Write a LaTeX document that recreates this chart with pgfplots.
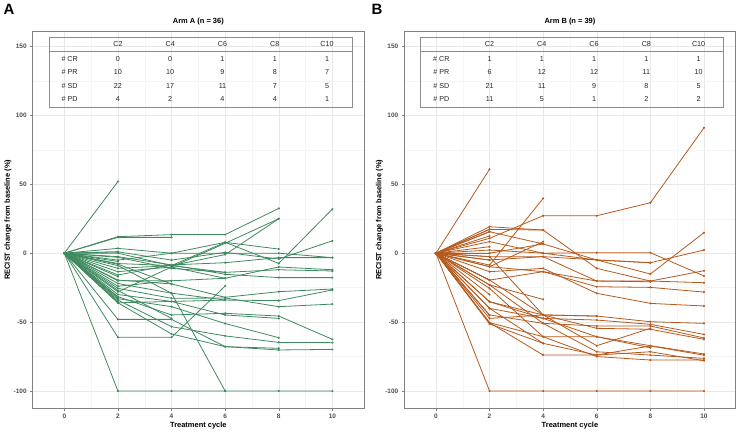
\documentclass[border=0pt]{standalone}
\usepackage{pgfplots}
\pgfplotsset{compat=1.18}
\usepackage{fontspec}
\setmainfont{Liberation Sans}
\definecolor{armA}{RGB}{62,138,94}
\definecolor{armB}{RGB}{181,89,28}
\definecolor{tickgray}{RGB}{77,77,77}
\pgfplotscreateplotcyclelist{armAlist}{{armA,mark=*,mark size=0.6pt,line width=0.8pt}\\}
\pgfplotscreateplotcyclelist{armBlist}{{armB,mark=*,mark size=0.6pt,line width=0.8pt}\\}
\tikzset{tabtxt/.style={font=\fontsize{7.2}{8}\selectfont, text=black!85, inner sep=0pt, anchor=center}}
\newcommand\trow[7]{%
 \node[tabtxt] at (axis cs:0.2,#1) {#2};
 \node[tabtxt] at (axis cs:2,#1) {#3};
 \node[tabtxt] at (axis cs:3.95,#1) {#4};
 \node[tabtxt] at (axis cs:5.9,#1) {#5};
 \node[tabtxt] at (axis cs:7.85,#1) {#6};
 \node[tabtxt] at (axis cs:9.8,#1) {#7};}
\pgfplotsset{
 spag/.style={
  scale only axis, width=331.3bp, height=376.3bp,
  xmin=-1.18, xmax=11.18, ymin=-112.3, ymax=160.7,
  xtick={0,2,...,10}, ytick={-100,-50,0,50,100,150},
  minor xtick={1,3,5,7,9}, minor ytick={-75,-25,25,75,125},
  grid=both,
  major grid style={draw=black!9, line width=0.5pt},
  minor grid style={draw=black!4, line width=0.35pt},
  axis line style={draw=black!50, line width=0.7pt},
  tick pos=left, tick align=outside,
  major tick length=2.5bp, minor tick length=0pt,
  every tick/.style={draw=black!50, line width=0.5pt},
  /pgf/number format/assume math mode=true,
  ticklabel style={font=\fontsize{6.5}{7}\selectfont\bfseries, text=tickgray},
  xlabel={Treatment cycle}, ylabel={RECIST change from baseline (\%)},
  label style={font=\fontsize{7.5}{8}\selectfont\bfseries, text=black},
  xlabel style={at={(axis description cs:0.5,-0.048)}, anchor=center},
  ylabel style={at={(axis description cs:-0.075,0.5)}, anchor=center},
  title style={font=\fontsize{7.5}{8}\selectfont\bfseries, at={(axis description cs:0.5,1.010)}, anchor=center, yshift=0pt},
 }
}
\begin{document}
\begin{tikzpicture}
\path[use as bounding box] (0,0) rectangle (738bp,432bp);
\node[font=\fontsize{15}{15}\selectfont\bfseries, anchor=center] at (9bp,422.5bp) {A};
\node[font=\fontsize{15}{15}\selectfont\bfseries, anchor=center] at (377bp,422.5bp) {B};
% ---------------- Arm A ----------------
\begin{axis}[spag, at={(32.7bp,24bp)}, anchor=south west, title={Arm A (n = 36)},
  cycle list name=armAlist]
\addplot coordinates {(0,0)(2,-100)(4,-100)(6,-100)(8,-100)(10,-100)};
\addplot coordinates {(0,0)(2,3.5)(4,0)(6,7.9)(8,-7.4)(10,32)};
\addplot coordinates {(0,0)(2,1)(4,-5)(6,0.6)(8,-4.2)(10,9)};
\addplot coordinates {(0,0)(2,-2.5)(4,-8.5)(6,-6.9)(8,-3.2)(10,-3.2)};
\addplot coordinates {(0,0)(2,-5)(4,0)(6,0)(8,0)(10,-3.2)};
\addplot coordinates {(0,0)(2,-11)(4,-9)(6,-13.9)(8,-12)(10,-12.9)};
\addplot coordinates {(0,0)(2,-13.4)(4,-10)(6,-18.2)(8,-10)(10,-12)};
\addplot coordinates {(0,0)(2,-15.8)(4,-8.5)(6,-15.3)(8,-17.7)(10,-17.7)};
\addplot coordinates {(0,0)(2,-19.5)(4,-22.3)(6,-32)(8,-27.9)(10,-26)};
\addplot coordinates {(0,0)(2,-22)(4,-29)(6,-34)(8,-34.4)(10,-26.7)};
\addplot coordinates {(0,0)(2,-25.5)(4,-32.7)(6,-32.5)(8,-38.8)(10,-36.9)};
\addplot coordinates {(0,0)(2,-31.5)(4,-44.8)(6,-43.6)(8,-45.6)(10,-62.5)};
\addplot coordinates {(0,0)(2,-34)(4,-53.3)(6,-60)(8,-64.7)(10,-64.9)};
\addplot coordinates {(0,0)(2,-36)(4,-58.6)(6,-67.8)(8,-70.2)(10,-69.8)};
\addplot coordinates {(0,0)(2,12)(4,13.5)(6,13.5)(8,32.5)};
\addplot coordinates {(0,0)(2,-28)(4,-10)(6,7.2)(8,25)};
\addplot coordinates {(0,0)(2,-7.5)(4,-9)(6,-1)(8,25)};
\addplot coordinates {(0,0)(2,0)(4,-9)(6,7.9)(8,3)};
\addplot coordinates {(0,0)(2,-30)(4,-35)(6,-44.8)(8,-47.3)};
\addplot coordinates {(0,0)(2,-33)(4,-38.8)(6,-51)(8,-61.3)};
\addplot coordinates {(0,0)(2,-48)(4,-48)(6,-67.8)(8,-69)};
\addplot coordinates {(0,0)(2,-9)(4,-29)(6,-100)};
\addplot coordinates {(0,0)(2,-61)(4,-61)(6,-23.8)};
\addplot coordinates {(0,0)(2,-3)(4,-11)(6,-13.9)};
\addplot coordinates {(0,0)(2,-24)(4,-20)(6,-18.2)};
\addplot coordinates {(0,0)(2,-36)(4,-35)(6,-34)};
\addplot coordinates {(0,0)(2,11.5)(4,11.5)};
\addplot coordinates {(0,0)(2,-20)(4,-20)};
\addplot coordinates {(0,0)(2,-27)(4,-47.3)};
\addplot coordinates {(0,0)(2,-8)(4,-22.3)};
\addplot coordinates {(0,0)(2,52)};
\addplot coordinates {(0,0)(2,1)};
\addplot coordinates {(0,0)(2,-6)};
\addplot coordinates {(0,0)(2,-17)};
\addplot coordinates {(0,0)(2,-32)};
\addplot coordinates {(0,0)(2,-35)};
\draw[black!45, line width=0.6pt] (axis cs:-0.57,156.4) rectangle (axis cs:10.73,105.9);
\draw[black!45, line width=0.6pt] (axis cs:-0.57,146.2) -- (axis cs:10.73,146.2);
\trow{151.6}{}{C2}{C4}{C6}{C8}{C10}
\trow{141}{\# CR}{0}{0}{1}{1}{1}
\trow{131.3}{\# PR}{10}{10}{9}{8}{7}
\trow{121.6}{\# SD}{22}{17}{11}{7}{5}
\trow{111.9}{\# PD}{4}{2}{4}{4}{1}
\end{axis}
% ---------------- Arm B ----------------
\begin{axis}[spag, at={(404.3bp,24bp)}, anchor=south west, title={Arm B (n = 39)},
  cycle list name=armBlist]
\addplot coordinates {(0,0)(2,10.8)(4,27.2)(6,27.2)(8,36.6)(10,91)};
\addplot coordinates {(0,0)(2,8.4)(4,0)(6,-4.9)(8,-15.1)(10,14.9)};
\addplot coordinates {(0,0)(2,2.3)(4,0)(6,0.4)(8,0.4)(10,-16.5)};
\addplot coordinates {(0,0)(2,-2.5)(4,-2.5)(6,-4.9)(8,-6.9)(10,2.3)};
\addplot coordinates {(0,0)(2,17.3)(4,16.8)(6,-11)(8,-20.2)(10,-12.7)};
\addplot coordinates {(0,0)(2,-9.8)(4,-13.4)(6,-20.2)(8,-20.2)(10,-21.4)};
\addplot coordinates {(0,0)(2,-13.4)(4,-11)(6,-29.1)(8,-36.4)(10,-38.3)};
\addplot coordinates {(0,0)(2,-19.5)(4,-13.4)(6,-24.3)(8,-24.8)(10,-28.2)};
\addplot coordinates {(0,0)(2,-35.2)(4,-44.8)(6,-45.6)(8,-49.7)(10,-50.9)};
\addplot coordinates {(0,0)(2,-40)(4,-47.3)(6,-48.5)(8,-51.6)(10,-58.9)};
\addplot coordinates {(0,0)(2,-44.8)(4,-50.9)(6,-52.8)(8,-52.8)(10,-61.5)};
\addplot coordinates {(0,0)(2,-47.3)(4,-44.8)(6,-54.5)(8,-55.2)(10,-62.5)};
\addplot coordinates {(0,0)(2,-50.4)(4,-60.6)(6,-60.6)(8,-67.1)(10,-73.1)};
\addplot coordinates {(0,0)(2,-51.3)(4,-65.4)(6,-73.9)(8,-67.3)(10,-74)};
\addplot coordinates {(0,0)(2,-23)(4,-50.9)(6,-71.5)(8,-73.9)(10,-76.3)};
\addplot coordinates {(0,0)(2,-25.5)(4,-60.6)(6,-75)(8,-77.5)(10,-77.5)};
\addplot coordinates {(0,0)(2,-50.4)(4,-73.9)(6,-73.9)(8,-71.5)(10,-78)};
\addplot coordinates {(0,0)(2,-100)(4,-100)(6,-100)(8,-100)(10,-100)};
\addplot coordinates {(0,0)(2,15.6)(4,6.7)(6,-4.9)(8,-6.9)};
\addplot coordinates {(0,0)(2,-4.9)(4,-2.5)(6,-20.2)(8,-20.7)};
\addplot coordinates {(0,0)(2,-35.2)(4,-47.3)(6,-60.6)(8,-68.6)};
\addplot coordinates {(0,0)(2,-19.5)(4,-44.8)(6,-67.1)(8,-54.5)};
\addplot coordinates {(0,0)(2,-2.5)(4,-44.8)(6,-45.6)};
\addplot coordinates {(0,0)(2,-8.6)(4,39.8)};
\addplot coordinates {(0,0)(2,19.2)(4,16.8)};
\addplot coordinates {(0,0)(2,-23)(4,-33.5)};
\addplot coordinates {(0,0)(2,-9.8)(4,8.4)};
\addplot coordinates {(0,0)(2,-40)(4,-65.4)};
\addplot coordinates {(0,0)(2,0)(4,6.7)};
\addplot coordinates {(0,0)(2,60.9)};
\addplot coordinates {(0,0)(2,17.3)};
\addplot coordinates {(0,0)(2,15.6)};
\addplot coordinates {(0,0)(2,12.5)};
\addplot coordinates {(0,0)(2,4.7)};
\addplot coordinates {(0,0)(2,0)};
\addplot coordinates {(0,0)(2,-5)};
\addplot coordinates {(0,0)(2,-19.5)};
\addplot coordinates {(0,0)(2,-30)};
\addplot coordinates {(0,0)(2,-45)};
\draw[black!45, line width=0.6pt] (axis cs:-0.57,156.4) rectangle (axis cs:10.73,106);
\draw[black!45, line width=0.6pt] (axis cs:-0.57,146.2) -- (axis cs:10.73,146.2);
\trow{151.6}{}{C2}{C4}{C6}{C8}{C10}
\trow{141}{\# CR}{1}{1}{1}{1}{1}
\trow{131.3}{\# PR}{6}{12}{12}{11}{10}
\trow{121.6}{\# SD}{21}{11}{9}{8}{5}
\trow{111.9}{\# PD}{11}{5}{1}{2}{2}
\end{axis}
\end{tikzpicture}
\end{document}
